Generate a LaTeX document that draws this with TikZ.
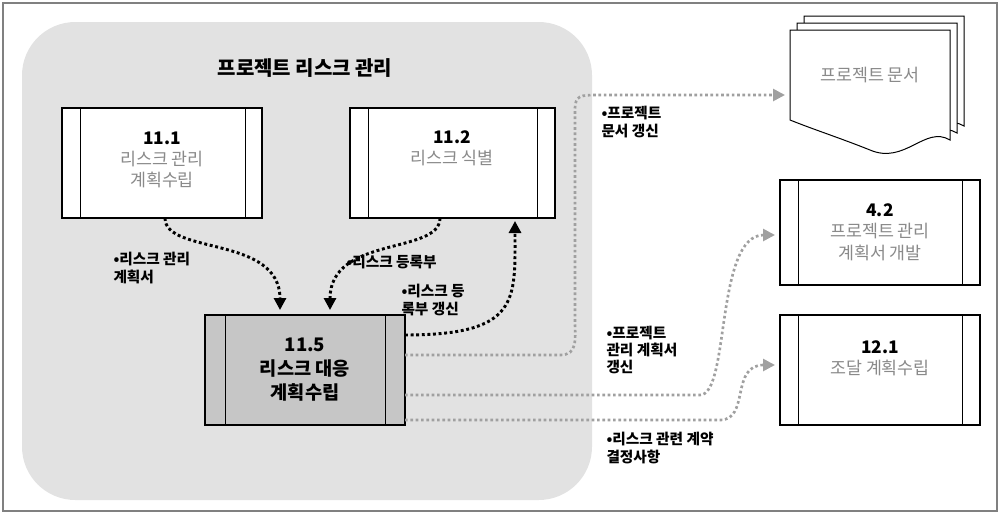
\documentclass[tikz,border=0pt]{standalone}
\usepackage{fontspec}
\setmainfont{Noto Sans CJK KR}
\usetikzlibrary{arrows.meta}
\definecolor{panel}{HTML}{E2E2E2}
\definecolor{procfill}{HTML}{C6C6C6}
\definecolor{txtgray}{HTML}{8A8A8A}
\definecolor{linkgray}{HTML}{A0A0A0}
\tikzset{every picture/.style={line width=0.75pt},
  procbox/.style={draw=black, line width=1pt, fill=white},
  blackflow/.style={dotted, line width=2.2pt, -{Triangle[length=9pt,width=9pt]}},
  grayflow/.style={dotted, draw=linkgray, line width=2pt, -{Triangle[length=9pt,width=9pt,fill=linkgray]}},
  lbl/.style={font=\bfseries\fontsize{11}{13}\selectfont, align=left, inner sep=0.75pt},
  ttl/.style={font=\fontsize{13}{16}\selectfont, align=center, text=txtgray}}
\begin{document}
\begin{tikzpicture}[x=0.75pt,y=0.75pt,yscale=-1,xscale=1]
\useasboundingbox (0,0) rectangle (1000,515);
%Outer frame
\draw [draw=gray, line width=1.5pt] (3,3) rectangle (997,511);
%Panel
\draw [fill=panel, draw=none, rounded corners=40pt] (22,22) rectangle (592,500);
\node (title) at (305,68) [font=\bfseries\fontsize{15}{18}\selectfont] {프로젝트 리스크 관리};

%Process 11.1
\draw [procbox] (62,108) rectangle (262,218);
\draw (80,108) -- (80,218) (245,108) -- (245,218);
\node (p111) at (162,160) [ttl] {\textbf{\textcolor{black}{11.1}}\\리스크 관리\\계획수립};
%Process 11.2
\draw [procbox] (350,108) rectangle (555,218);
\draw (368,108) -- (368,218) (537,108) -- (537,218);
\node (p112) at (452,148) [ttl] {\textbf{\textcolor{black}{11.2}}\\리스크 식별};
%Process 11.5
\draw [procbox, fill=procfill] (205,315) rectangle (405,425);
\draw (225,315) -- (225,425) (385,315) -- (385,425);
\node (p115) at (305,370) [ttl, text=black, font=\bfseries\fontsize{14}{18}\selectfont] {11.5\\리스크 대응\\계획수립};
%Process 4.2
\draw [procbox] (780,180) rectangle (980,285);
\draw (798,180) -- (798,285) (962,180) -- (962,285);
\node (p42) at (880,232) [ttl] {\textbf{\textcolor{black}{4.2}}\\프로젝트 관리\\계획서 개발};
%Process 12.1
\draw [procbox] (780,315) rectangle (980,425);
\draw (798,315) -- (798,425) (962,315) -- (962,425);
\node (p121) at (880,358) [ttl] {\textbf{\textcolor{black}{12.1}}\\조달 계획수립};

%Document stack
\foreach \d in {14,7,0}{
\draw [fill=white] (790+\d,30-\d) -- (950+\d,30-\d) -- (950+\d,140-\d) .. controls (925+\d,125-\d) and (905+\d,165-\d) .. (870+\d,150-\d) .. controls (840+\d,138-\d) and (815+\d,130-\d) .. (790+\d,120-\d) -- cycle;}
\node (docs) at (870,75) [ttl] {프로젝트 문서};

%Black flows
\draw [blackflow] (165,218) .. controls (165,255) and (280,235) .. (280,310);
\draw [blackflow] (440,218) .. controls (440,255) and (330,235) .. (330,310);
\draw [blackflow] (405,335) .. controls (520,335) and (515,300) .. (515,221);
\node at (112,268) [lbl, anchor=west] {•리스크 관리\\ 계획서};
\node at (345,262) [lbl, anchor=west] {•리스크 등록부};
\node at (400,300) [lbl, anchor=west] {•리스크 등\\ 록부 갱신};

%Gray flows
\draw [grayflow] (405,355) -- (560,355) .. controls (578,355) and (575,340) .. (575,320) -- (575,110) .. controls (575,95) and (580,95) .. (600,95) -- (785,95);
\draw [grayflow] (405,395) -- (700,395) .. controls (730,395) and (715,235) .. (775,235);
\draw [grayflow] (405,420) -- (720,420) .. controls (750,420) and (730,365) .. (775,365);
\node at (600,122) [lbl, anchor=west] {•프로젝트\\ 문서 갱신};
\node at (605,350) [lbl, anchor=west] {•프로젝트\\ 관리 계획서\\ 갱신};
\node at (605,448) [lbl, anchor=west] {•리스크 관련 계약\\ 결정사항};
\end{tikzpicture}
\end{document}
